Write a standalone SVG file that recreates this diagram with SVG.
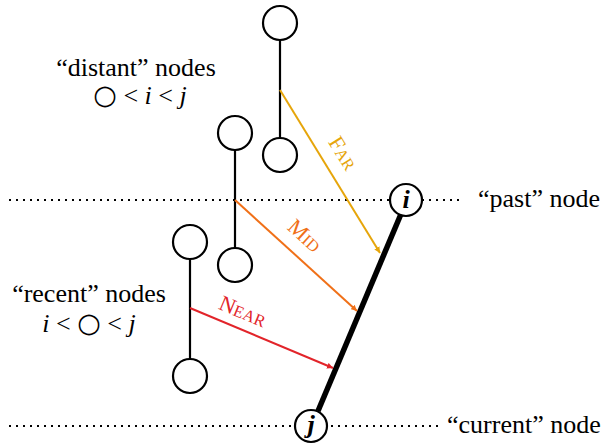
<svg xmlns="http://www.w3.org/2000/svg" width="605" height="445" viewBox="0 0 605 445">
<defs>
<marker id="ay" viewBox="0 0 10 10" refX="10" refY="5" markerWidth="6" markerHeight="6" markerUnits="userSpaceOnUse" orient="auto"><path d="M0,0 L10,5 L0,10 z" fill="#E6A50A"/></marker>
<marker id="ao" viewBox="0 0 10 10" refX="10" refY="5" markerWidth="6" markerHeight="6" markerUnits="userSpaceOnUse" orient="auto"><path d="M0,0 L10,5 L0,10 z" fill="#F07018"/></marker>
<marker id="ar" viewBox="0 0 10 10" refX="10" refY="5" markerWidth="6" markerHeight="6" markerUnits="userSpaceOnUse" orient="auto"><path d="M0,0 L10,5 L0,10 z" fill="#E2242A"/></marker>
</defs>
<rect width="605" height="445" fill="#fff"/>
<g id="guides" stroke="#000" stroke-width="2" stroke-dasharray="2 5" fill="none">
<line x1="9" y1="200" x2="463" y2="200"/>
<line x1="9" y1="426" x2="438" y2="426"/>
</g>
<g id="connectors">
<g stroke="#000" stroke-width="2.2">
<line x1="280" y1="40" x2="280" y2="138"/>
<line x1="235" y1="150" x2="235" y2="248"/>
<line x1="190" y1="259" x2="190" y2="359"/>
</g>
<line x1="401" y1="214" x2="318" y2="411" stroke="#000" stroke-width="5.5"/>
<line x1="280" y1="90" x2="380" y2="253" stroke="#E6A50A" stroke-width="2" marker-end="url(#ay)"/>
<line x1="235" y1="200" x2="357" y2="311" stroke="#F07018" stroke-width="2" marker-end="url(#ao)"/>
<line x1="190" y1="308" x2="333" y2="368" stroke="#E2242A" stroke-width="2" marker-end="url(#ar)"/>
<text font-family="Liberation Serif, Times New Roman, Times, serif" font-size="22" fill="#E6A50A" text-anchor="middle" transform="translate(337,157) rotate(58.3)">F<tspan font-size="16.5">AR</tspan></text>
<text font-family="Liberation Serif, Times New Roman, Times, serif" font-size="22" fill="#F07018" text-anchor="middle" transform="translate(300,241) rotate(42.3)">M<tspan font-size="16.5">ID</tspan></text>
<text font-family="Liberation Serif, Times New Roman, Times, serif" font-size="22" fill="#E2242A" text-anchor="middle" transform="translate(240,318) rotate(22.8)">N<tspan font-size="16.5">EAR</tspan></text>
</g>
<g fill="#fff" stroke="#000" stroke-width="2.2">
<g id="n1a"><circle cx="280" cy="23" r="17"/></g>
<g id="n1b"><circle cx="280" cy="155" r="17"/></g>
<g id="n2a"><circle cx="235" cy="133" r="17"/></g>
<g id="n2b"><circle cx="235" cy="265" r="17"/></g>
<g id="n3a"><circle cx="190" cy="242" r="17"/></g>
<g id="n3b"><circle cx="190" cy="376" r="17"/></g>
<g id="ni"><circle cx="406" cy="200" r="16"/></g>
<g id="nj"><circle cx="311" cy="426" r="16"/></g>
</g>
<text font-family="Liberation Serif, Times New Roman, Times, serif" font-size="26" font-style="italic" font-weight="bold" x="406" y="208" text-anchor="middle">i</text>
<text font-family="Liberation Serif, Times New Roman, Times, serif" font-size="26" font-style="italic" font-weight="bold" x="311" y="433" text-anchor="middle">j</text>
<g id="labels">
<text font-family="Liberation Serif, Times New Roman, Times, serif" font-size="26" x="136" y="76" text-anchor="middle">“distant” nodes</text>
<text font-family="Liberation Serif, Times New Roman, Times, serif" font-size="26" x="140" y="104" text-anchor="middle"><tspan font-family="DejaVu Sans, sans-serif" font-size="27">○</tspan> &lt; <tspan font-style="italic">i</tspan> &lt; <tspan font-style="italic">j</tspan></text>
<text font-family="Liberation Serif, Times New Roman, Times, serif" font-size="26" x="89" y="302" text-anchor="middle">“recent” nodes</text>
<text font-family="Liberation Serif, Times New Roman, Times, serif" font-size="26" x="89" y="332" text-anchor="middle"><tspan font-style="italic">i</tspan> &lt; <tspan font-family="DejaVu Sans, sans-serif" font-size="27">○</tspan> &lt; <tspan font-style="italic">j</tspan></text>
<text font-family="Liberation Serif, Times New Roman, Times, serif" font-size="26" x="478" y="207">“past” node</text>
<text font-family="Liberation Serif, Times New Roman, Times, serif" font-size="26" x="447" y="433">“current” node</text>
</g>
</svg>
